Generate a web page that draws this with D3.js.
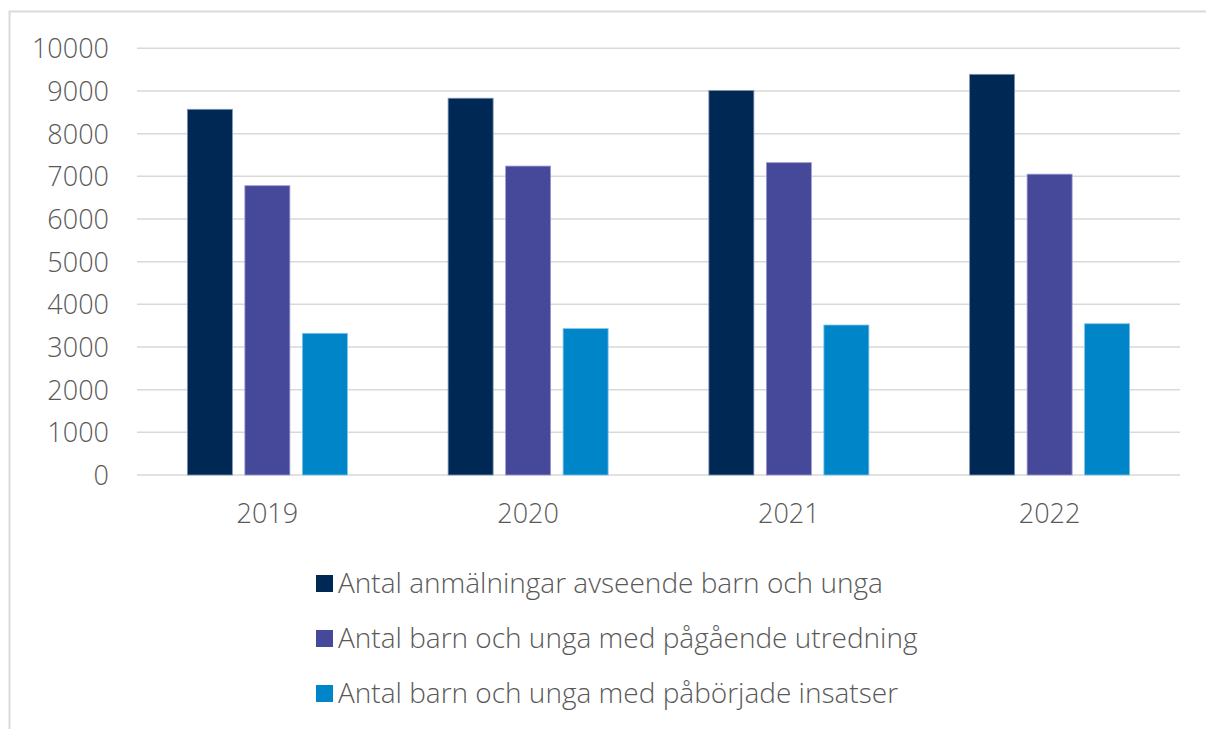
<!DOCTYPE html>
<html><head><meta charset="utf-8">
<script src="https://cdn.jsdelivr.net/npm/d3@7"></script>
<style>
html,body{margin:0;padding:0;background:#fff;}
svg{display:block;font-family:"Open Sans",sans-serif;}
</style></head>
<body><svg id="c" width="1206" height="729"></svg>
<script>
const years = ["2019","2020","2021","2022"];
const seriesNames = [
  "Antal anmälningar avseende barn och unga",
  "Antal barn och unga med pågående utredning",
  "Antal barn och unga med påbörjade insatser"
];
const anmalningar = [8570, 8830, 9010, 9390];
const utredning = [6780, 7240, 7320, 7050];
const insatser = [3320, 3430, 3515, 3545];
const yTicks = [0,1000,2000,3000,4000,5000,6000,7000,8000,9000,10000];
const colors = ["#002855","#46489a","#0085c8"];
const strokes = ["#7f93b3","#9a9bd0","#7cc3ea"];

const seriesValues = [anmalningar, utredning, insatser];
const svg = d3.select("#c");
const FONT = "'Open Sans',sans-serif";
const FS = "27px";

// frame
svg.append("path").attr("d","M9.5,729 L9.5,11.5 L1206,11.5")
  .attr("fill","none").attr("stroke","#d9d9d9").attr("stroke-width",2);

const pLeft=137, pRight=1180, pTop=48.3, pBottom=475;
const y = d3.scaleLinear().domain([0,10000]).range([pBottom, pTop]);
const x0 = d3.scaleBand().domain(years).range([pLeft,pRight]).paddingInner(0).paddingOuter(0);
const barW = 45, gap = 12.5;

// gridlines
svg.append("g").selectAll("line").data(yTicks).join("line")
  .attr("x1",pLeft).attr("x2",pRight)
  .attr("y1",d=>y(d)).attr("y2",d=>y(d))
  .attr("stroke","#d9d9d9").attr("stroke-width",1.5);

// y axis labels
const yAxis = d3.axisLeft(y).tickValues(yTicks).tickSize(0).tickPadding(0).tickFormat(d3.format("d"));
const ya = svg.append("g").attr("transform",`translate(109,0)`).call(yAxis);
ya.select(".domain").remove();
ya.selectAll("text").attr("fill","#595959").style("font-size",FS).style("font-family",FONT).style("font-weight",300).attr("dy","0.35em");

// bars
years.forEach((yr,i)=>{
  const cx = x0(yr)+x0.bandwidth()/2;
  const totalW = 3*barW+2*gap;
  seriesValues.forEach((vals,s)=>{
    const bx = cx - totalW/2 + s*(barW+gap);
    svg.append("rect")
      .attr("x",bx).attr("y",y(vals[i]))
      .attr("width",barW).attr("height",y(0)-y(vals[i]))
      .attr("fill",colors[s]).attr("stroke",strokes[s]).attr("stroke-width",0.8);
  });
});

// x axis labels
const xAxis = d3.axisBottom(x0).tickSize(0).tickPadding(0);
const xa = svg.append("g").attr("transform",`translate(0,${pBottom})`).call(xAxis);
xa.select(".domain").remove();
xa.selectAll("text").attr("fill","#595959").style("font-size",FS).style("font-family",FONT).style("font-weight",300).attr("y",48).attr("dy","0");

// legend
const lg = svg.append("g");
seriesNames.forEach((n,s)=>{
  const cy = 583 + s*55;
  lg.append("rect").attr("x",316).attr("y",cy-8).attr("width",17).attr("height",17).attr("fill",colors[s]);
  lg.append("text").attr("x",338).attr("y",cy).attr("dy","0.35em")
    .attr("fill","#595959").style("font-size","28px").style("font-weight",300).text(n);
});
</script></body></html>
